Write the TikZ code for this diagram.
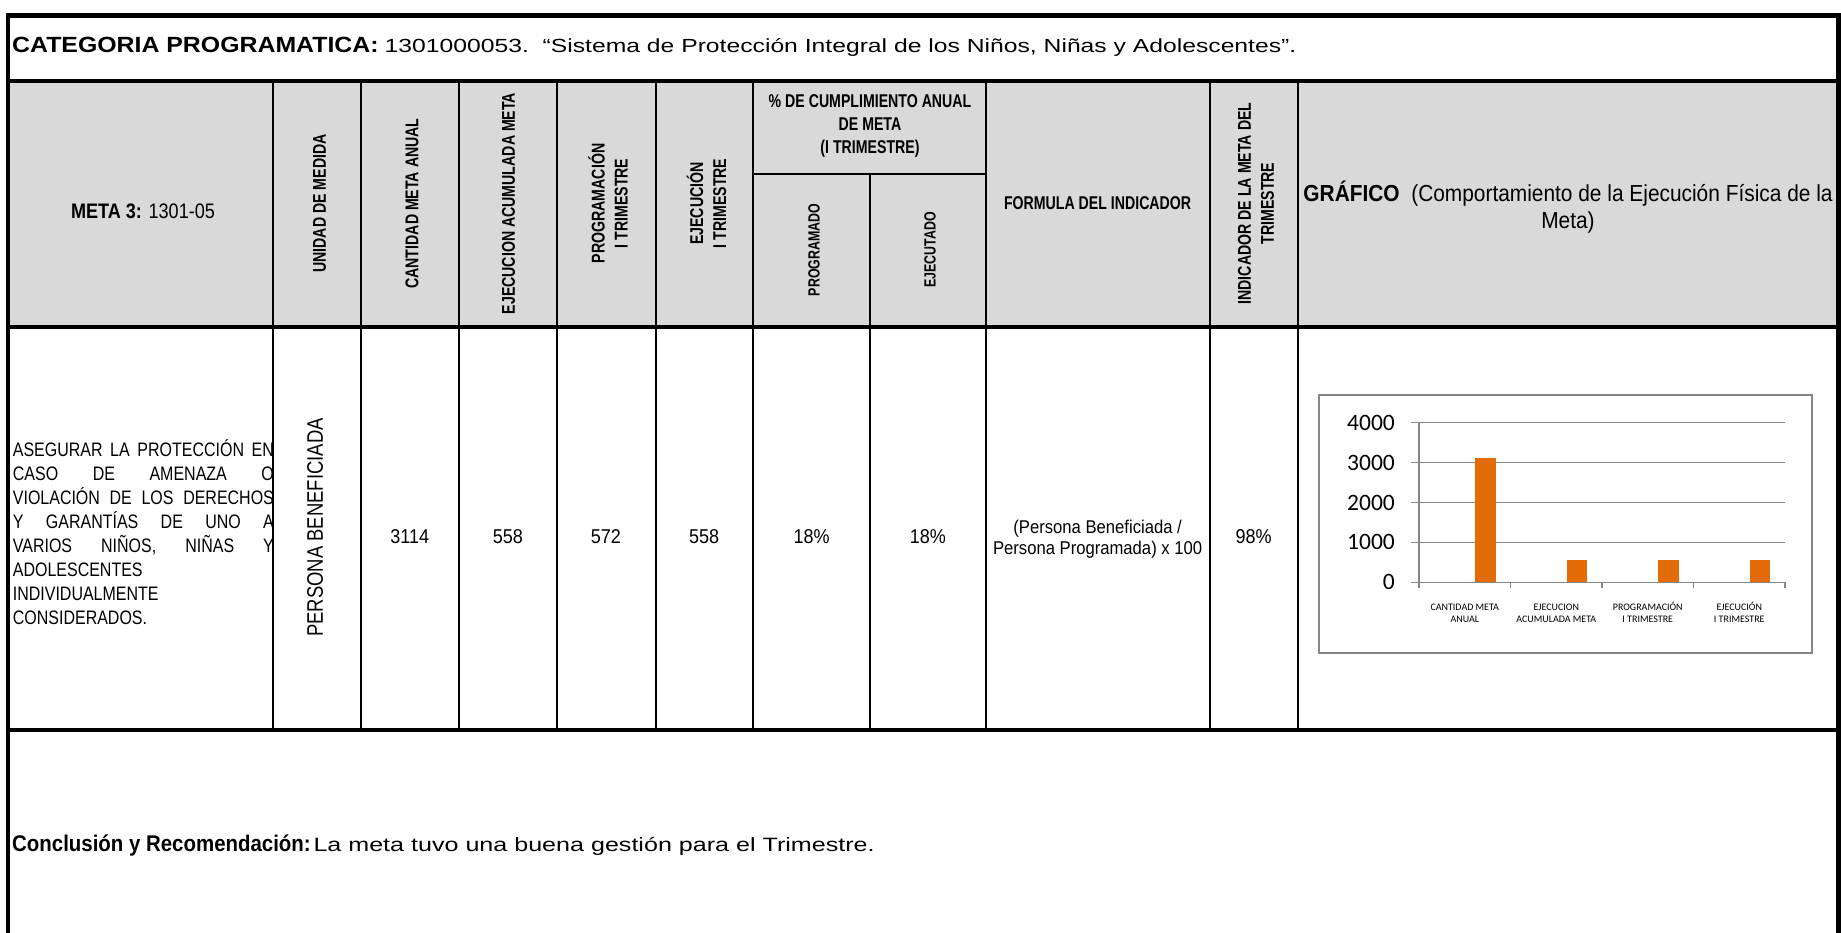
\documentclass[tikz,border=0pt]{standalone}
\usepackage{fontspec}
\setmainfont{Liberation Sans}
\newfontfamily\titlefont[FakeStretch=1.3]{Liberation Sans}
\newfontfamily\titlebold[FakeStretch=1.13]{Liberation Sans}
\newfontfamily\headfont[FakeStretch=0.765]{Liberation Sans}
\newfontfamily\metabold[FakeStretch=0.86]{Liberation Sans}
\newfontfamily\bodyfont[FakeStretch=0.82]{Liberation Sans}
\newfontfamily\cellfont[FakeStretch=0.9]{Liberation Sans}
\newfontfamily\chartfont{Carlito}
\usetikzlibrary{positioning}
\definecolor{headgray}{HTML}{D9D9D9}
\definecolor{chartgrid}{HTML}{868686}
\definecolor{chartbar}{HTML}{E36C09}
\newcommand\setsize[2]{\fontsize{#1}{#2}\selectfont}
\newcommand\jline[1]{\makebox[261pt][s]{#1}}

\begin{document}
\begin{tikzpicture}[x=1pt,y=-1pt,
    every node/.style={inner sep=0pt},
    thickrule/.style={line width=4.5pt},
    thinrule/.style={line width=2pt},
    headcell/.style={font=\headfont\bfseries\setsize{18.5}{23}, align=center},
    vhead/.style={headcell, rotate=90},
    subhead/.style={vhead, font=\headfont\bfseries\setsize{16.2}{20}},
    valcell/.style={font=\cellfont\setsize{20}{24}},
    gridline/.style={draw=chartgrid, line width=1.2pt},
    bar/.style={fill=chartbar},
    axislabel/.style={font=\chartfont\setsize{23.5}{28}, anchor=east},
    catlabel/.style={font=\chartfont\setsize{10}{12}, align=center, anchor=base}]
    \useasboundingbox (0,0) rectangle (1841,933);
    \fill[headgray] (8,80.8) rectangle (1838.5,327);

    % frame and rules
    \draw[thickrule] (8,15.3) -- (1838.5,15.3);
    \draw[thickrule] (8,13) -- (8,940);
    \draw[thickrule] (1838.5,13) -- (1838.5,940);
    \draw[thickrule] (8,80.8) -- (1838.5,80.8);
    \draw[thickrule] (8,327) -- (1838.5,327);
    \draw[thickrule] (8,730) -- (1838.5,730);
    \foreach \cx in {273.3,360.6,458.8,556.6,655.5,753.4,985.7,1209.5,1298}
      \draw[thinrule] (\cx,80.8) -- (\cx,730);
    \draw[thinrule] (753.4,174) -- (985.7,174);
    \draw[thinrule] (870,174) -- (870,730);

    \node (cat) [anchor=base west, font=\setsize{22}{25}] at (12,52.3) {{\titlebold\bfseries CATEGORIA PROGRAMATICA:}\ {\titlefont\setsize{19}{25}1301000053.\ \ “Sistema de Protección Integral de los Niños, Niñas y Adolescentes”.}};

    % header row
    \node (meta) [anchor=base, font=\metabold\setsize{21}{25}] at (143,218.3) {{\bfseries META 3:} 1301-05};
    \node (unidad) [vhead] at (319.5,203.5) {UNIDAD DE MEDIDA};
    \node (cantidad) [vhead] at (412,203.5) {CANTIDAD META ANUAL};
    \node (ejacum) [vhead] at (508.5,203.5) {EJECUCION ACUMULADA META};
    \node (progtri) [vhead] at (608,203.5) {PROGRAMACIÓN\\ I TRIMESTRE};
    \node (ejectri) [vhead] at (706.5,203.5) {EJECUCIÓN\\ I TRIMESTRE};
    \node (cumpl) [headcell] at (870,126) {\% DE CUMPLIMIENTO ANUAL\\ DE META\\ (I TRIMESTRE)};
    \node (programado) [subhead] at (814,250) {PROGRAMADO};
    \node (ejecutado) [subhead] at (930,250) {EJECUTADO};
    \node (formula) [headcell] at (1097.6,203) {FORMULA DEL INDICADOR};
    \node (indicador) [vhead] at (1256,203.5) {INDICADOR DE LA META DEL\\ TRIMESTRE};
    \node (grafico) [font=\cellfont\setsize{23.2}{26.3}, align=center] at (1568,207) {{\bfseries GRÁFICO}\ \ (Comportamiento de la Ejecución Física de la\\ Meta)};

    % data row
    \node (objetivo) [anchor=base west, font=\bodyfont\setsize{19.5}{23.9}, align=left] at (12.7,624) {\jline{ASEGURAR LA PROTECCIÓN EN}\\ \jline{CASO DE AMENAZA O}\\ \jline{VIOLACIÓN DE LOS DERECHOS}\\ \jline{Y GARANTÍAS DE UNO A}\\ \jline{VARIOS NIÑOS, NIÑAS Y}\\ ADOLESCENTES\\ INDIVIDUALMENTE\\ CONSIDERADOS.};
    \node (persona) [rotate=90, font=\bodyfont\setsize{22.5}{26}] at (315,527.5) {PERSONA BENEFICIADA};
    \node (anual) [valcell] at (409.8,537) {3114};
    \node (acum) [valcell] at (507.8,537) {558};
    \node (prog) [valcell] at (605.8,537) {572};
    \node (ejec) [valcell] at (704.2,537) {558};
    \node (pprog) [valcell] at (811.7,537) {18\%};
    \node (pejec) [valcell] at (927.9,537) {18\%};
    \node (formtxt) [font=\cellfont\setsize{18.5}{21}, align=center, anchor=base] at (1097.6,554.5) {(Persona Beneficiada /\\ Persona Programada) x 100};
    \node (indtxt) [valcell] at (1253.7,537) {98\%};

    % chart
    \draw[draw=chartgrid, line width=1.6pt] (1319,395) rectangle (1812,653);
    \draw[gridline] (1411,422.7) -- (1785,422.7);
    \draw[gridline] (1411,462.6) -- (1785,462.6);
    \draw[gridline] (1411,502.5) -- (1785,502.5);
    \draw[gridline] (1411,542.4) -- (1785,542.4);
    \draw[gridline] (1411,582.3) -- (1785,582.3);
    \draw[gridline] (1419,422.7) -- (1419,582.3);
    \foreach \tx in {1419,1510.5,1602,1693.5,1785}
      \draw[gridline] (\tx,582.3) -- (\tx,587.5);
    \node (y4000) [axislabel] at (1395,422.7) {4000};
    \node (y3000) [axislabel] at (1395,462.6) {3000};
    \node (y2000) [axislabel] at (1395,502.5) {2000};
    \node (y1000) [axislabel] at (1395,542.4) {1000};
    \node (y0) [axislabel] at (1395,582.3) {0};
    \fill[bar] (1475.3,582.3) rectangle (1495.6,458.1);
    \fill[bar] (1566.8,582.3) rectangle (1587.1,560);
    \fill[bar] (1658.3,582.3) rectangle (1678.6,559.5);
    \fill[bar] (1749.8,582.3) rectangle (1770.1,560);
    \node (lab1) [catlabel] at (1464.75,622.7) {CANTIDAD META\\ ANUAL};
    \node (lab2) [catlabel] at (1556.25,622.7) {EJECUCION\\ ACUMULADA META};
    \node (lab3) [catlabel] at (1647.75,622.7) {PROGRAMACIÓN\\ I TRIMESTRE};
    \node (lab4) [catlabel] at (1739.25,622.7) {EJECUCIÓN\\ I TRIMESTRE};

    % conclusion
    \node (concl) [anchor=base west] at (12,851) {{\cellfont\bfseries\setsize{22.7}{26}Conclusión y Recomendación:}\ {\titlefont\setsize{19.3}{24}La meta tuvo una buena gestión para el Trimestre.}};
\end{tikzpicture}
\end{document}
